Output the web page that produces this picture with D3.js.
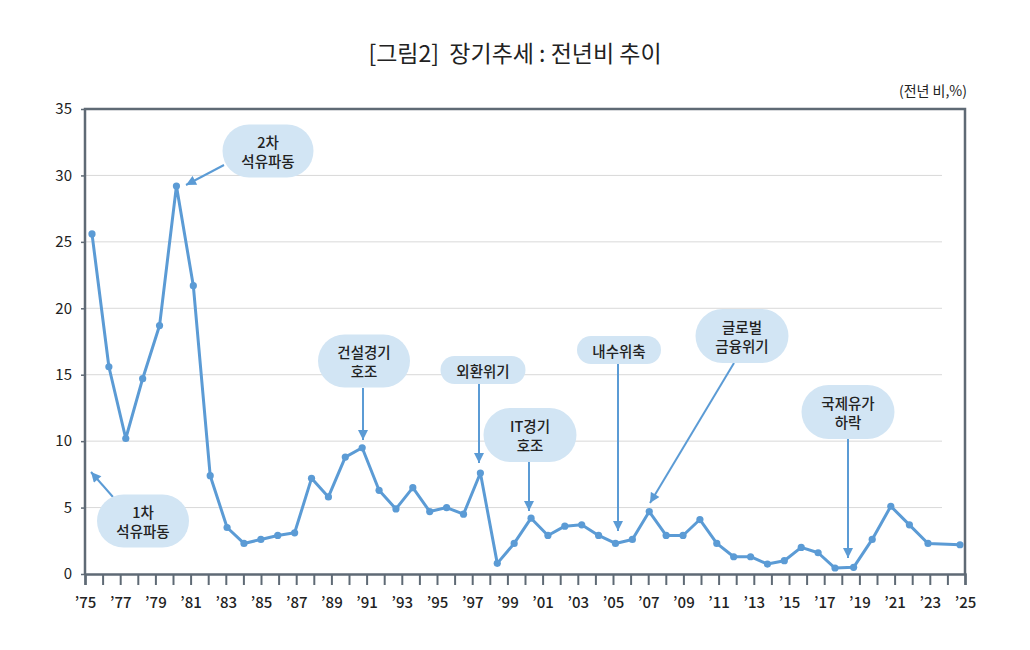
<!DOCTYPE html>
<html>
<head>
<meta charset="utf-8">
<script src="https://cdn.jsdelivr.net/npm/d3@7"></script>
<style>
  body { margin: 0; background: #fff; }
  text { font-family: "Noto Sans CJK KR", "Noto Sans", sans-serif; fill: #222; }
</style>
</head>
<body>
<div class="svgContainer"></div>
<script>
// Data
var YEARS = [1975, 1976, 1977, 1978, 1979, 1980, 1981, 1982, 1983, 1984,
             1985, 1986, 1987, 1988, 1989, 1990, 1991, 1992, 1993, 1994,
             1995, 1996, 1997, 1998, 1999, 2000, 2001, 2002, 2003, 2004,
             2005, 2006, 2007, 2008, 2009, 2010, 2011, 2012, 2013, 2014,
             2015, 2016, 2017, 2018, 2019, 2020, 2021, 2022, 2023, 2024, 2025];
var VALUES = [25.6, 15.6, 10.2, 14.7, 18.7, 29.2, 21.7, 7.4, 3.5, 2.3,
              2.6, 2.9, 3.1, 7.2, 5.8, 8.8, 9.5, 6.3, 4.9, 6.5,
              4.7, 5.0, 4.5, 7.6, 0.8, 2.3, 4.2, 2.9, 3.6, 3.7,
              2.9, 2.3, 2.6, 4.7, 2.9, 2.9, 4.1, 2.3, 1.3, 1.3,
              0.75, 1.0, 2.0, 1.6, 0.45, 0.5, 2.6, 5.1, 3.7, 2.3, 2.2];
var Y_TICKS = [0, 5, 10, 15, 20, 25, 30, 35];
var TITLE = "[그림2]  장기추세 : 전년비 추이";
var UNIT = "(전년 비,%)";
var NOTE_TEXT = [["2차", "석유파동"], ["1차", "석유파동"], ["건설경기", "호조"], ["외환위기"],
                 ["IT경기", "호조"], ["내수위축"], ["글로벌", "금융위기"], ["국제유가", "하락"]];

// Layout of the callouts (bubble centre/size, arrow from -> to)
var NOTE_LAYOUT = [
    {cx: 268, cy: 151, w: 91, h: 53, x1: 224, y1: 165, x2: 186, y2: 185},
    {cx: 143, cy: 521, w: 92, h: 53, x1: 113, y1: 497, x2: 91,  y2: 472},
    {cx: 364, cy: 361, w: 92, h: 53, x1: 363, y1: 388, x2: 363, y2: 440},
    {cx: 483, cy: 370, w: 85, h: 28, x1: 479, y1: 384, x2: 479, y2: 463},
    {cx: 530, cy: 435, w: 93, h: 54, x1: 529, y1: 462, x2: 529, y2: 511},
    {cx: 619, cy: 350, w: 84, h: 28, x1: 618, y1: 364, x2: 618, y2: 531},
    {cx: 742, cy: 336, w: 93, h: 54, x1: 734, y1: 363, x2: 650, y2: 503},
    {cx: 848, cy: 412, w: 93, h: 54, x1: 848, y1: 439, x2: 848, y2: 558}
];

var BLUE = "#5b9bd5",
    FRAME = "#5f6a75",
    GRID = "#d9d9d9",
    BUBBLE = "#d2e5f4";

var W = 1030, H = 650;
var plot = {left: 85, right: 965, top: 109, bottom: 574};

var svg = d3.select(".svgContainer").append("svg")
    .attr("width", W)
    .attr("height", H);

// Scales
var scaleY = d3.scaleLinear().domain([0, 35]).range([plot.bottom, plot.top]);
var scaleAxisX = d3.scaleLinear().domain([1975, 2025]).range([plot.left, plot.right]);
// the points in the original sit slightly off the year ticks
var scaleX = d3.scaleLinear()
    .domain([1975, 2019, 2024, 2025])
    .range([92, 835, 928, 960]);

// Gridlines
svg.append("g")
    .selectAll("line")
    .data(Y_TICKS.filter(function(d) { return d > 0 && d < 35; }))
    .enter().append("line")
    .attr("x1", plot.left)
    .attr("x2", 942)
    .attr("y1", function(d) { return scaleY(d); })
    .attr("y2", function(d) { return scaleY(d); })
    .attr("stroke", GRID)
    .attr("stroke-width", 1);

// Frame
svg.append("path")
    .attr("d", "M" + plot.left + "," + plot.bottom + "V" + plot.top + "H" + plot.right + "V" + plot.bottom)
    .attr("fill", "none")
    .attr("stroke", FRAME)
    .attr("stroke-width", 2.5);

// Y axis
var yAxis = svg.append("g")
    .attr("transform", "translate(" + plot.left + ",0)")
    .call(d3.axisLeft(scaleY).tickValues(Y_TICKS).tickSize(4).tickPadding(9));
yAxis.select(".domain").remove();
yAxis.selectAll("line").attr("stroke", FRAME).attr("stroke-width", 1.5);
yAxis.selectAll("text")
    .style("font-family", "'Noto Sans CJK KR', sans-serif")
    .style("font-size", "15px")
    .attr("fill", "#222");

// X axis
var xAxis = svg.append("g")
    .attr("transform", "translate(0," + plot.bottom + ")")
    .call(d3.axisBottom(scaleAxisX)
        .tickValues(d3.range(1975, 2026))
        .tickSize(11)
        .tickPadding(12)
        .tickFormat(function(d) { return d % 2 === 1 ? "\u2019" + String(d).slice(2) : ""; }));
xAxis.select(".domain").attr("stroke", FRAME).attr("stroke-width", 2.5);
xAxis.selectAll("line").attr("stroke", FRAME).attr("stroke-width", 2);
xAxis.selectAll("text")
    .style("font-family", "'Noto Sans CJK KR', sans-serif")
    .style("font-size", "15px")
    .style("font-weight", "500")
    .attr("fill", "#222");

// Line + points
var series = YEARS.map(function(y, i) { return {year: y, value: VALUES[i]}; });

svg.append("path")
    .datum(series)
    .attr("fill", "none")
    .attr("stroke", BLUE)
    .attr("stroke-width", 3)
    .attr("stroke-linejoin", "round")
    .attr("d", d3.line()
        .x(function(d) { return scaleX(d.year); })
        .y(function(d) { return scaleY(d.value); }));

svg.append("g")
    .selectAll("circle")
    .data(series)
    .enter().append("circle")
    .attr("cx", function(d) { return scaleX(d.year); })
    .attr("cy", function(d) { return scaleY(d.value); })
    .attr("r", 3.6)
    .attr("fill", BLUE);

// Arrow marker
svg.append("defs").append("marker")
    .attr("id", "arrow")
    .attr("markerUnits", "userSpaceOnUse")
    .attr("viewBox", "0 0 10 10")
    .attr("refX", 10)
    .attr("refY", 5)
    .attr("markerWidth", 11)
    .attr("markerHeight", 10)
    .attr("orient", "auto")
    .append("path")
    .attr("d", "M0,0L10,5L0,10Z")
    .attr("fill", BLUE);

// Callouts
var notes = svg.append("g")
    .selectAll("g")
    .data(NOTE_LAYOUT)
    .enter().append("g");

notes.append("line")
    .attr("x1", function(d) { return d.x1; })
    .attr("y1", function(d) { return d.y1; })
    .attr("x2", function(d) { return d.x2; })
    .attr("y2", function(d) { return d.y2; })
    .attr("stroke", BLUE)
    .attr("stroke-width", 2)
    .attr("marker-end", "url(#arrow)");

notes.append("rect")
    .attr("x", function(d) { return d.cx - d.w / 2; })
    .attr("y", function(d) { return d.cy - d.h / 2; })
    .attr("width", function(d) { return d.w; })
    .attr("height", function(d) { return d.h; })
    .attr("rx", function(d) { return d.h / 2; })
    .attr("fill", BUBBLE);

notes.each(function(d, i) {
    var lines = NOTE_TEXT[i];
    var g = d3.select(this);
    lines.forEach(function(t, k) {
        g.append("text")
            .attr("x", d.cx)
            .attr("y", d.cy + (k - (lines.length - 1) / 2) * 19)
            .attr("text-anchor", "middle")
            .attr("dominant-baseline", "central")
            .style("font-size", "14.5px")
            .style("font-weight", "500")
            .text(t);
    });
});

// Title and unit
svg.append("text")
    .attr("x", 515)
    .attr("y", 52)
    .attr("text-anchor", "middle")
    .attr("dominant-baseline", "central")
    .style("white-space", "pre")
    .style("font-size", "23px")
    .style("font-weight", "400")
    .text(TITLE);

svg.append("text")
    .attr("x", 967)
    .attr("y", 90)
    .attr("text-anchor", "end")
    .attr("dominant-baseline", "central")
    .style("font-size", "14px")
    .style("font-weight", "400")
    .text(UNIT);
</script>
</body>
</html>
